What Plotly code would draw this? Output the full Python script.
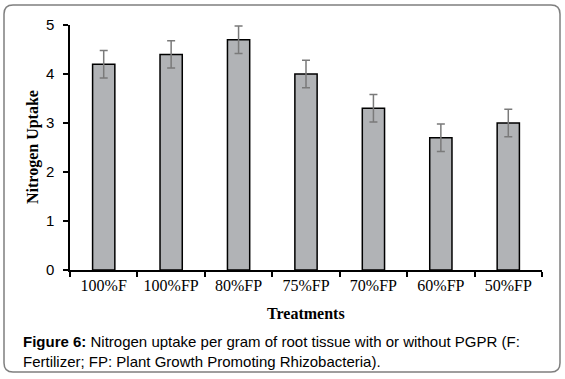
import plotly.graph_objects as go

categories = ["100%F", "100%FP", "80%FP", "75%FP", "70%FP", "60%FP", "50%FP"]
nitrogen_uptake = [4.2, 4.4, 4.7, 4.0, 3.3, 2.7, 3.0]
error_values = [0.28, 0.28, 0.28, 0.28, 0.28, 0.28, 0.28]
y_ticks = [0, 1, 2, 3, 4, 5]

W, H = 565, 379
L, R, T, B = 70, 542, 25, 270
pw, ph = R - L, B - T


def px(x):
    return (x - L) / pw


def py(y):
    return (B - y) / ph


fig = go.Figure(go.Bar(
    x=categories, y=nitrogen_uptake, width=0.33,
    marker=dict(color="#b1b3b6", line=dict(color="#000000", width=1.5)),
    error_y=dict(type="data", array=error_values, visible=True,
                 color="#7a7a7a", thickness=1.5, width=4),
))

# rounded frame
fx0, fx1, fy0, fy1, r = 4, 560, 5, 372, 9
path = (f"M {px(fx0 + r)} {py(fy0)} L {px(fx1 - r)} {py(fy0)} "
        f"Q {px(fx1)} {py(fy0)} {px(fx1)} {py(fy0 + r)} "
        f"L {px(fx1)} {py(fy1 - r)} Q {px(fx1)} {py(fy1)} {px(fx1 - r)} {py(fy1)} "
        f"L {px(fx0 + r)} {py(fy1)} Q {px(fx0)} {py(fy1)} {px(fx0)} {py(fy1 - r)} "
        f"L {px(fx0)} {py(fy0 + r)} Q {px(fx0)} {py(fy0)} {px(fx0 + r)} {py(fy0)} Z")

fig.update_layout(
    width=W, height=H,
    margin=dict(l=L, r=W - R, t=T, b=H - B, pad=0),
    paper_bgcolor="white", plot_bgcolor="white",
    showlegend=False,
    shapes=[dict(type="path", xref="paper", yref="paper", path=path,
                 line=dict(color="#7f7f7f", width=1.5), layer="below")],
    xaxis=dict(
        type="category", showline=True, linecolor="black", linewidth=1.5,
        ticks="outside", ticklen=5, tickcolor="black", tickwidth=1.5,
        tickson="boundaries", showgrid=False,
        tickfont=dict(family="Liberation Serif", size=16, color="black"),
    ),
    yaxis=dict(
        range=[0, 5], tickvals=y_ticks, showline=True, linecolor="black",
        linewidth=1.5, ticks="outside", ticklen=5, tickcolor="black",
        tickwidth=1.5, showgrid=False, zeroline=False,
        tickfont=dict(family="Liberation Sans", size=15, color="black"),
        ticklabelstandoff=6,
    ),
    annotations=[
        dict(text="<b>Nitrogen Uptake</b>", xref="paper", yref="paper",
             x=px(33), y=py(147), textangle=-90, showarrow=False,
             xanchor="center", yanchor="middle",
             font=dict(family="Liberation Serif", size=16, color="black")),
        dict(text="<b>Treatments</b>", xref="paper", yref="paper",
             x=px(306), y=py(313), showarrow=False,
             xanchor="center", yanchor="middle",
             font=dict(family="Liberation Serif", size=16, color="black")),
        dict(text="<b>Figure 6:</b> Nitrogen uptake per gram of root tissue with or without PGPR (F:"
                  "<br>Fertilizer; FP: Plant Growth Promoting Rhizobacteria).",
             xref="paper", yref="paper", x=px(21), y=py(351), showarrow=False,
             xanchor="left", yanchor="middle", align="left",
             font=dict(family="Liberation Sans", size=15, color="black")),
    ],
)

fig.write_html("out.html", config={"displayModeBar": False},
               post_script="document.body.style.margin='0';document.body.style.padding='0';")
